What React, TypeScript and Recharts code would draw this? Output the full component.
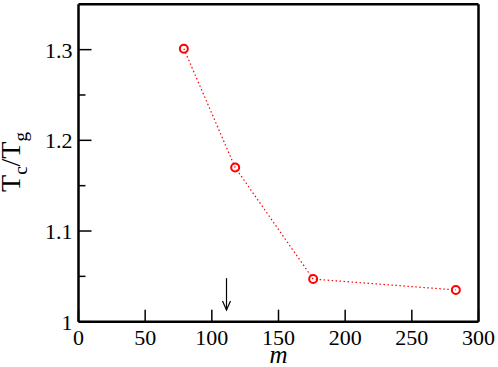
import React from 'react';
import { LineChart, Line, XAxis, YAxis, ReferenceLine } from 'recharts';

// chain length m vs Tc/Tg
const mValues = [79, 117.5, 176, 283];
const ratioValues = [1.301, 1.17, 1.047, 1.035];

const xTicks = [0, 50, 100, 150, 200, 250, 300];
const yMajorTicks = [1, 1.1, 1.2, 1.3];
const yMinorTicks = [1.05, 1.15, 1.25];
const yTicks = [...yMajorTicks, ...yMinorTicks].sort((a, b) => a - b);

// arrow marking m ~ 111
const arrowX = [111];
const arrowY = [1.048, 1.013];

const data = mValues.map((m, i) => ({ m, ratio: ratioValues[i] }));

const FONT = 'Liberation Serif, DejaVu Serif, serif';
const isMajorY = (v: number) => yMajorTicks.some(t => Math.abs(t - v) < 1e-6);
const fmtY = (v: number) => (Math.abs(v - 1) < 1e-6 ? '1' : v.toFixed(1));

const renderBottomTick = (props: any) => {
  const x = Number(props.x);
  const y = Number(props.y);
  return (
    <g>
      <path d={`M${x},${y}V${y - 12}`} stroke="#000" strokeWidth={1.5} fill="none" />
      <text x={x} y={y + 23} textAnchor="middle" fontSize={22} fontFamily={FONT} fill="#000">
        {props.payload.value}
      </text>
    </g>
  );
};

const renderTopTick = (props: any) => {
  const x = Number(props.x);
  const y = Number(props.y);
  const v = props.payload.value;
  if (v === 0 || v === 300) return <g />;
  return <path d={`M${x},${y}V${y + 12}`} stroke="#000" strokeWidth={1.5} fill="none" />;
};

const renderLeftTick = (props: any) => {
  const x = Number(props.x);
  const y = Number(props.y);
  const v = props.payload.value;
  const major = isMajorY(v);
  return (
    <g>
      <path d={`M${x},${y}H${x + (major ? 13 : 7)}`} stroke="#000" strokeWidth={1.5} fill="none" />
      {major && (
        <text x={x - 6} y={y + 8} textAnchor="end" fontSize={22} fontFamily={FONT} fill="#000">
          {fmtY(v)}
        </text>
      )}
    </g>
  );
};

const renderRightTick = (props: any) => {
  const x = Number(props.x);
  const y = Number(props.y);
  const v = props.payload.value;
  const major = isMajorY(v);
  if (Math.abs(v - 1) < 1e-6) return <g />;
  return <path d={`M${x},${y}H${x - (major ? 13 : 7)}`} stroke="#000" strokeWidth={1.5} fill="none" />;
};

const ArrowShape = (props: any) => {
  const { x1, y1, x2, y2 } = props;
  return (
    <g>
      <line x1={x1} y1={y1} x2={x2} y2={y2} stroke="#000" strokeWidth={1.2} />
      <polyline
        points={`${x2 - 4},${y2 - 9} ${x2},${y2} ${x2 + 4},${y2 - 9}`}
        fill="none"
        stroke="#000"
        strokeWidth={1.2}
      />
    </g>
  );
};

const axisLine = { stroke: '#000', strokeWidth: 2.5 };

export default function App() {
  return (
    <div style={{ position: 'absolute', left: 0, top: 0, background: '#fff' }}>
      <LineChart width={498} height={367} data={data} margin={{ top: 3.3, right: 18.5, bottom: 0, left: 0 }}>
        <XAxis
          xAxisId="bottom"
          dataKey="m"
          type="number"
          domain={[0, 300]}
          ticks={xTicks}
          height={45.3}
          axisLine={axisLine}
          tickLine={false}
          tickSize={0}
          tickMargin={0}
          tick={renderBottomTick}
          interval={0}
          allowDataOverflow
        />
        <XAxis
          xAxisId="top"
          orientation="top"
          type="number"
          domain={[0, 300]}
          ticks={xTicks}
          height={1}
          axisLine={axisLine}
          tickLine={false}
          tickSize={0}
          tickMargin={0}
          tick={renderTopTick}
          interval={0}
        />
        <YAxis
          yAxisId="left"
          type="number"
          domain={[1, 1.35]}
          ticks={yTicks}
          width={78.5}
          axisLine={axisLine}
          tickLine={false}
          tickSize={0}
          tickMargin={0}
          tick={renderLeftTick}
          interval={0}
          allowDataOverflow
        />
        <YAxis
          yAxisId="right"
          orientation="right"
          type="number"
          domain={[1, 1.35]}
          ticks={yTicks}
          width={1}
          axisLine={axisLine}
          tickLine={false}
          tickSize={0}
          tickMargin={0}
          tick={renderRightTick}
          interval={0}
        />
        <ReferenceLine
          xAxisId="bottom"
          yAxisId="left"
          segment={[
            { x: arrowX[0], y: arrowY[0] },
            { x: arrowX[0], y: arrowY[1] },
          ]}
          shape={ArrowShape}
        />
        <Line
          xAxisId="bottom"
          yAxisId="left"
          type="linear"
          dataKey="ratio"
          stroke="#ff0000"
          strokeWidth={1.2}
          strokeDasharray="1.5 2.5"
          dot={{ r: 4, stroke: '#ff0000', strokeWidth: 2, fill: 'none', strokeDasharray: 'none' }}
          activeDot={false}
          isAnimationActive={false}
        />
        <text
          x={20}
          y={162}
          textAnchor="middle"
          fontFamily={FONT}
          fontSize={28}
          fill="#000"
          transform="rotate(-90, 20, 162)"
        >
          T
          <tspan fontSize={19} dy={7}>c</tspan>
          <tspan dy={-7}>/T</tspan>
          <tspan fontSize={19} dy={7}>g</tspan>
        </text>
        <text x={278.5} y={363} textAnchor="middle" fontFamily={FONT} fontStyle="italic" fontSize={25} fill="#000">
          m
        </text>
      </LineChart>
    </div>
  );
}
